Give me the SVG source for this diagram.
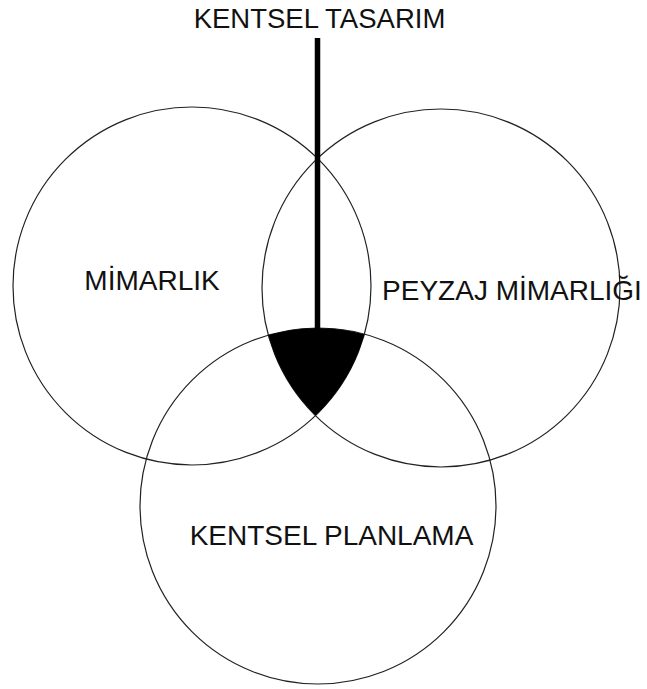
<svg xmlns="http://www.w3.org/2000/svg" width="647" height="689" viewBox="0 0 647 689">
<style>
.c{fill:none;stroke:#222;stroke-width:1.2}
.t{font-family:"Liberation Sans",Arial,sans-serif;font-size:28px;fill:#111;text-anchor:middle}
</style>
<rect width="647" height="689" fill="#fff"/>
<g id="mimarlik"><circle class="c" cx="192" cy="286" r="179"/><text class="t" x="152" y="290">MİMARLIK</text></g>
<g id="peyzaj"><circle class="c" cx="441" cy="288" r="179"/><text class="t" x="512" y="300">PEYZAJ MİMARLIĞI</text></g>
<g id="planlama"><circle class="c" cx="318" cy="506" r="178"/><text class="t" x="331.5" y="545">KENTSEL PLANLAMA</text></g>
<g id="kentsel-tasarim">
<path d="M268.3 335.1 A178 178 0 0 1 364.4 334.2 A179 179 0 0 1 315.5 415.6 A179 179 0 0 1 268.3 335.1 Z" fill="#000"/>
<text class="t" x="319.5" y="28" style="font-size:27.5px">KENTSEL TASARIM</text>
</g>
<g id="connectors"><line x1="317.5" y1="38" x2="317.5" y2="332" stroke="#000" stroke-width="5.5"/></g>
</svg>
